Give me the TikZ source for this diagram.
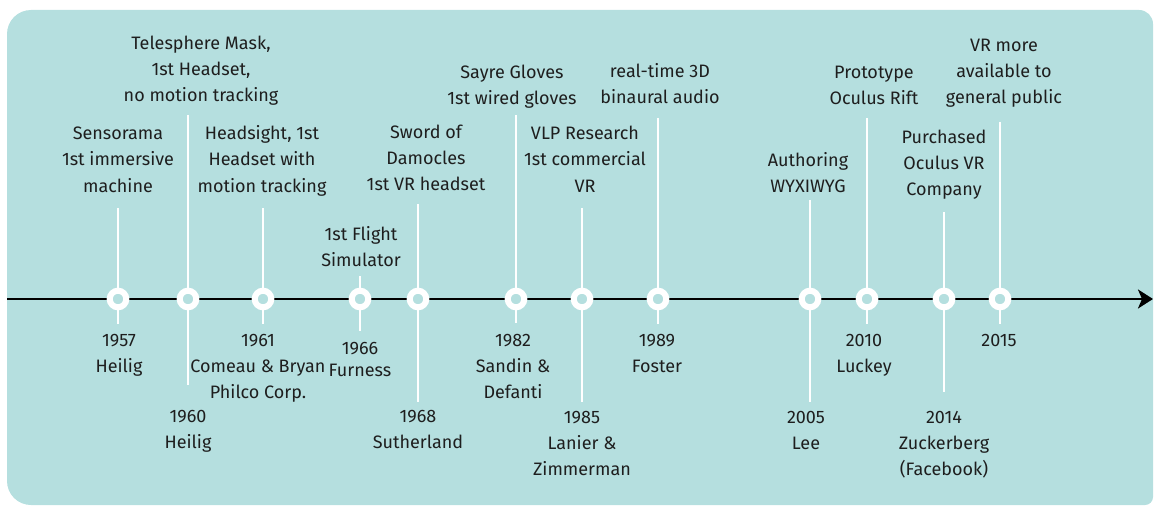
\documentclass[tikz,border=0pt]{standalone}
\usepackage{fontspec}
\setmainfont{Fira Sans}
\usetikzlibrary{arrows.meta}
\definecolor{panelbg}{RGB}{181,223,223}
\definecolor{txt}{RGB}{30,30,30}
\newcommand{\stk}[1]{\begin{tabular}[t]{@{}c@{}}#1\end{tabular}}
\begin{document}
\begin{tikzpicture}[x=1pt,y=-1pt,
  lbl/.style={anchor=base,inner sep=0pt,text=txt,font=\fontsize{18}{26}\selectfont},
  ring/.style={circle,draw=white,line width=6pt,fill=panelbg,minimum size=16.6pt,inner sep=0pt},
  vline/.style={draw=white,line width=1.5pt},
  axis/.style={draw=black,line width=2.5pt,-{Stealth[length=15pt,width=19pt,inset=4pt]}}]
\useasboundingbox (0,0) rectangle (1154,508);
\fill[panelbg] (580,505) [rounded corners=24pt] -- (7,505) -- (7,10) [rounded corners=14pt] -- (1153,10) [rounded corners=8pt] -- (1153,505) [sharp corners] -- cycle;
% axis
\coordinate (axL) at (7,299);
\coordinate (axR) at (1153,299);
\draw[axis] (axL) -- (axR);
% line ends
\foreach \n/\x/\t/\b in {57/118/208/324,60/188/115/385,61/263/208/324,66/360/276/331,68/418/204/402,82/516/115/323,85/582/208/402,89/658/118/324,05/810/200/402,10/867/118/324,14/944/212/392,15/1000/122/324}{
  \coordinate (u\n) at (\x,\t);
  \coordinate (d\n) at (\x,\b);
  \coordinate (m\n) at (\x,299);
  \draw[vline] (u\n) -- (d\n);
}
% circles
\foreach \n in {57,60,61,66,68,82,85,89,05,10,14,15}{
  \node[ring] (c\n) at (m\n) {};
}
% top labels
\node[lbl] (t57) at (118,140) {\stk{Sensorama\\1st immersive\\machine}};
\node[lbl] (t60) at (201,50) {\stk{Telesphere Mask,\\1st Headset,\\no motion tracking}};
\node[lbl] (t61) at (262,140) {\stk{Headsight, 1st\\Headset with\\motion tracking}};
\node[lbl] (t66) at (361,240) {\stk{1st Flight\\Simulator}};
\node[lbl] (t68) at (426,139) {\stk{Sword of\\Damocles\\1st VR headset}};
\node[lbl] (t82) at (512,79) {\stk{Sayre Gloves\\1st wired gloves}};
\node[lbl] (t85) at (585,140) {\stk{VLP Research\\1st commercial\\VR}};
\node[lbl] (t89) at (660,78) {\stk{real-time 3D\\binaural audio}};
\node[lbl] (t05) at (808,167) {\stk{Authoring\\WYXIWYG}};
\node[lbl] (t10) at (874,79) {\stk{Prototype\\Oculus Rift}};
\node[lbl] (t14) at (944,143) {\stk{Purchased\\Oculus VR\\Company}};
\node[lbl] (t15) at (1004,52) {\stk{VR more\\available to\\general public}};
% bottom labels
\node[lbl] (b57) at (119,346) {\stk{1957\\Heilig}};
\node[lbl] (b60) at (188,422) {\stk{1960\\Heilig}};
\node[lbl] (b61) at (258,346) {\stk{1961\\Comeau \& Bryan\\Philco Corp.}};
\node[lbl,font=\fontsize{18}{22}\selectfont] (b66) at (360,354) {\stk{1966\\Furness}};
\node[lbl] (b68) at (418,422) {\stk{1968\\Sutherland}};
\node[lbl] (b82) at (513,346) {\stk{1982\\Sandin \&\\Defanti}};
\node[lbl] (b85) at (582,423) {\stk{1985\\Lanier \&\\Zimmerman}};
\node[lbl] (b89) at (657,346) {\stk{1989\\Foster}};
\node[lbl] (b05) at (806,423) {\stk{2005\\Lee}};
\node[lbl] (b10) at (864,346) {\stk{2010\\Luckey}};
\node[lbl] (b14) at (944,423) {\stk{2014\\Zuckerberg\\(Facebook)}};
\node[lbl] (b15) at (999,346) {\stk{2015}};
\end{tikzpicture}
\end{document}
